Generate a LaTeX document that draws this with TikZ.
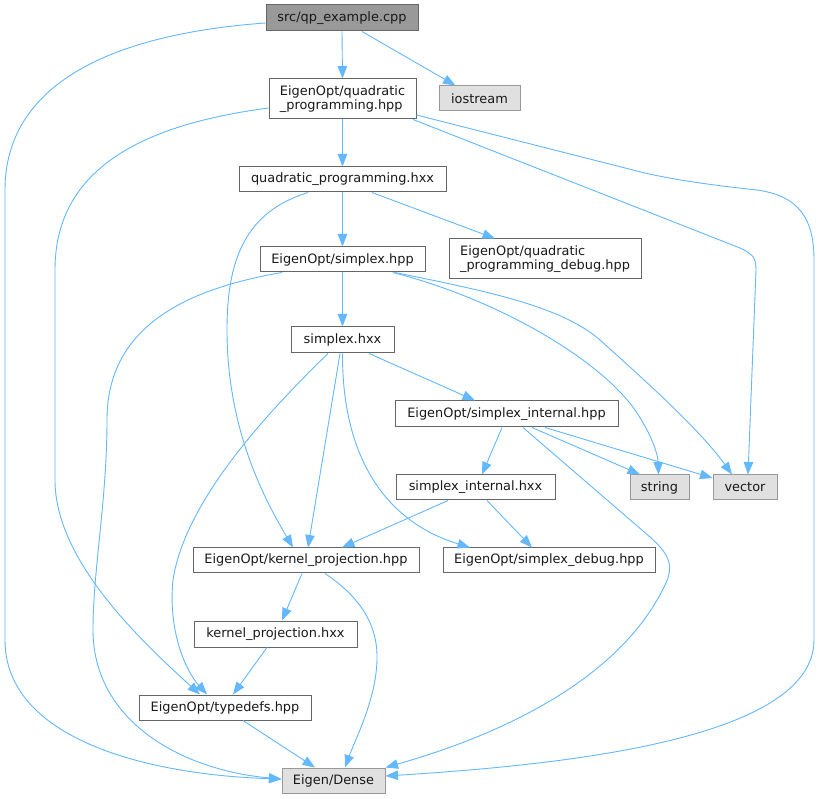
\documentclass[tikz,border=0pt]{standalone}
\usepackage{fontspec}
\setmainfont{DejaVu Sans}
\usetikzlibrary{arrows.meta}
\definecolor{edgeblue}{HTML}{63B8FF}
\definecolor{grayfill}{HTML}{E0E0E0}
\definecolor{darkfill}{HTML}{999999}
\tikzset{
  box/.style={draw=black!60, fill=white, line width=1pt, inner sep=0pt, align=left,
    font=\fontsize{12.9}{14.3}\selectfont, text=black!90},
  sysbox/.style={box, draw=black!40, fill=grayfill},
  mainbox/.style={box, draw=black!60, fill=darkfill},
  dep/.style={draw=edgeblue, line width=0.9pt, -{Triangle[length=12.5pt,width=9.5pt]}}
}
\begin{document}
\begin{tikzpicture}[x=1pt,y=-1pt]
\useasboundingbox[fill=white] (0,0) rectangle (820,799);
% nodes
\node[mainbox, minimum width=152pt, minimum height=26pt] (qpex) at (342,18) {src/qp\_example.cpp};
\node[box, minimum width=147pt, minimum height=40pt] (qphpp) at (342.5,99) {EigenOpt/quadratic\\\_programming.hpp};
\node[sysbox, minimum width=81pt, minimum height=25pt] (iostream) at (479.5,98.5) {iostream};
\node[box, minimum width=207pt, minimum height=25pt] (qphxx) at (342.5,179.5) {quadratic\_programming.hxx};
\node[box, minimum width=165pt, minimum height=25pt] (simhpp) at (342.5,259.5) {EigenOpt/simplex.hpp};
\node[box, minimum width=192pt, minimum height=40pt] (qpdbg) at (545,259) {EigenOpt/quadratic\\\_programming\_debug.hpp};
\node[box, minimum width=103pt, minimum height=26pt] (simhxx) at (342.5,340) {simplex.hxx};
\node[box, minimum width=223pt, minimum height=26pt] (sinthpp) at (506.5,414) {EigenOpt/simplex\_internal.hpp};
\node[box, minimum width=159pt, minimum height=25pt] (sinthxx) at (475.5,487.5) {simplex\_internal.hxx};
\node[sysbox, minimum width=59pt, minimum height=25pt] (string) at (659.5,487.5) {string};
\node[sysbox, minimum width=64pt, minimum height=25pt] (vector) at (745,487.5) {vector};
\node[box, minimum width=226pt, minimum height=25pt] (kphpp) at (306,560.5) {EigenOpt/kernel\_projection.hpp};
\node[box, minimum width=212pt, minimum height=25pt] (sdbg) at (549,560.5) {EigenOpt/simplex\_debug.hpp};
\node[box, minimum width=163pt, minimum height=26pt] (kphxx) at (275.5,634) {kernel\_projection.hxx};
\node[box, minimum width=172pt, minimum height=25pt] (typedefs) at (225,707.5) {EigenOpt/typedefs.hpp};
\node[sysbox, minimum width=103pt, minimum height=25pt] (dense) at (333.5,780.5) {Eigen/Dense};
% edges
\draw[dep] (qpex.south) -- (qphpp.north);
\draw[dep] ([xshift=20pt]qpex.south) -- ([xshift=-24pt]iostream.north);
\draw[dep] ([yshift=-5pt]qpex.west) .. controls (100,35) and (5,90) .. (5,190) -- (5,640)
  .. controls (5,740) and (150,775) .. ([yshift=1.5pt]dense.west);
\draw[dep] (qphpp.south) -- (qphxx.north);
\draw[dep] ([yshift=-9pt]qphpp.west) .. controls (140,125) and (55,170) .. (55,270) -- (55,480)
  .. controls (55,560) and (140,640) .. ([xshift=-25pt]typedefs.north);
\draw[dep] ([xshift=70.5pt]qphpp.south) -- (740,248) .. controls (753,254) and (756,258) .. (756,270)
  -- ([xshift=3pt]vector.north);
\draw[dep] ([yshift=-16pt]qphpp.east) -- (633,170) .. controls (670,180) and (720,186) .. (757,190)
  .. controls (800,196) and (814,220) .. (814,260) -- (814,640)
  .. controls (814,740) and (560,765) .. ([yshift=4.5pt]dense.east);
\draw[dep] (qphxx.south) -- (simhpp.north);
\draw[dep] ([xshift=29.5pt]qphxx.south) -- ([xshift=-50pt]qpdbg.north);
\draw[dep] ([xshift=-34.5pt]qphxx.south) .. controls (245,212) and (227,260) .. (227,330)
  .. controls (227,430) and (265,500) .. ([xshift=-13pt]kphpp.north);
\draw[dep] (simhpp.south) -- (simhxx.north);
\draw[dep] ([xshift=-60.5pt]simhpp.south) .. controls (180,290) and (107,330) .. (107,420)
  .. controls (107,500) and (93,570) .. (93,630)
  .. controls (93,720) and (180,770) .. ([yshift=1.5pt]dense.west);
\draw[dep] ([xshift=50.5pt]simhpp.south) .. controls (500,300) and (600,360) .. (635,410)
  .. controls (652,435) and (658,455) .. ([xshift=-1pt]string.north);
\draw[dep] ([xshift=52.5pt]simhpp.south) .. controls (480,290) and (560,305) .. (600,340)
  .. controls (650,385) and (700,430) .. ([xshift=-13pt]vector.north);
\draw[dep] ([xshift=26.5pt]simhxx.south) -- ([xshift=-31.5pt]sinthpp.north);
\draw[dep] ([xshift=-2.5pt]simhxx.south) -- ([xshift=2pt]kphpp.north);
\draw[dep] ([xshift=-14.5pt]simhxx.south) .. controls (270,410) and (185,500) .. (173,580)
  .. controls (168,630) and (185,670) .. ([xshift=-18pt]typedefs.north);
\draw[dep] ([xshift=0pt]simhxx.south) .. controls (342,450) and (380,520) .. ([xshift=-79pt]sdbg.north);
\draw[dep] ([xshift=-4.5pt]sinthpp.south) -- ([xshift=6.5pt]sinthxx.north);
\draw[dep] ([xshift=25.5pt]sinthpp.south) -- ([xshift=-19.5pt]string.north);
\draw[dep] ([xshift=38.5pt]sinthpp.south) -- ([yshift=9.5pt]vector.west);
\draw[dep] ([xshift=16.5pt]sinthpp.south) -- (650,537) .. controls (668,553) and (675,565) .. (665,585)
  .. controls (620,680) and (500,735) .. (dense.north east);
\draw[dep] ([xshift=-27.5pt]sinthxx.south) -- ([xshift=36pt]kphpp.north);
\draw[dep] ([xshift=11.5pt]sinthxx.south) -- ([xshift=-17pt]sdbg.north);
\draw[dep] ([xshift=-4pt]kphpp.south) -- ([xshift=6.5pt]kphxx.north);
\draw[dep] ([xshift=19pt]kphpp.south) .. controls (365,600) and (378,630) .. (377,660)
  .. controls (376,700) and (355,740) .. ([xshift=11.5pt]dense.north);
\draw[dep] ([xshift=-8.5pt]kphxx.south) -- ([xshift=8pt]typedefs.north);
\draw[dep] ([xshift=18pt]typedefs.south) -- ([xshift=-18.5pt]dense.north);
\end{tikzpicture}
\end{document}
